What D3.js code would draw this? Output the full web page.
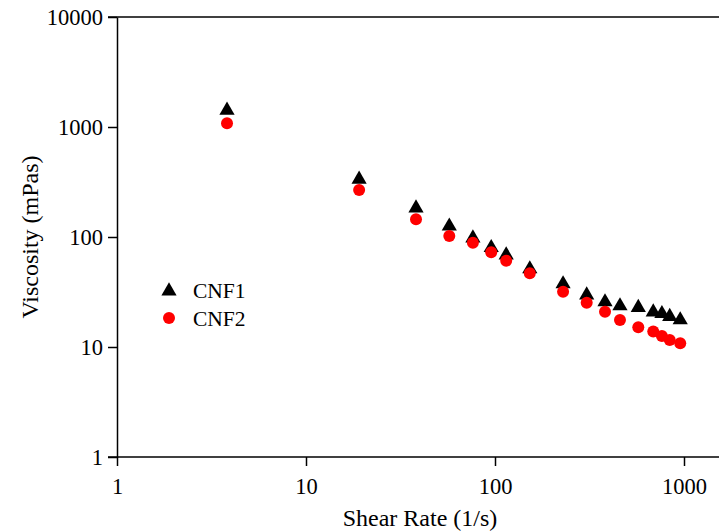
<!DOCTYPE html>
<html><head><meta charset="utf-8">
<script src="https://cdn.jsdelivr.net/npm/d3@7"></script>
<style>body{margin:0;background:#fff}svg{display:block}</style>
</head><body>
<svg id="c" width="719" height="531"></svg>
<script>
const shearRate = [3.82, 19.1, 38.2, 57.3, 76.4, 95.5, 114.6, 152.8, 229.2, 305.6, 382, 458.4, 573, 687.6, 764, 840.4, 955];
const cnf1 = [1450, 342, 187, 128, 100, 81.6, 70, 52.3, 38.2, 30.3, 26.2, 24.1, 23.3, 21.2, 20.5, 19.3, 18.0];
const cnf2 = [1081, 267, 145, 102, 88.8, 72.6, 60.9, 46.8, 31.8, 25.3, 20.9, 17.6, 15.1, 13.8, 12.6, 11.6, 10.8];
const xTicks = [1, 10, 100, 1000];
const yTicks = [1, 10, 100, 1000, 10000];
const seriesNames = ["CNF1", "CNF2"];

(function () {
const svg = d3.select("#c");
const font = "'Liberation Serif','Times New Roman',serif";
const mL = 117, mR = 719, mT = 17, mB = 457;
const x = d3.scaleLog().domain([1, Math.pow(10, 602/189)]).range([mL, mR]);
const y = d3.scaleLog().domain([1, 10000]).range([mB, mT]);

svg.append("line").attr("x1", mL - 9).attr("x2", mR)
  .attr("y1", y(10000)).attr("y2", y(10000)).attr("stroke", "#000").attr("stroke-width", 1.5);

const xa = svg.append("g").attr("transform", `translate(0,${mB})`)
  .call(d3.axisBottom(x).tickValues(xTicks).tickFormat(d3.format("d")).tickSize(9).tickPadding(12).tickSizeOuter(0));
const ya = svg.append("g").attr("transform", `translate(${mL},0)`)
  .call(d3.axisLeft(y).tickValues(yTicks).tickFormat(d3.format("d")).tickSize(9).tickPadding(5).tickSizeOuter(0));
[xa, ya].forEach(g => {
  g.select(".domain").attr("stroke", "#000").attr("stroke-width", 1.5);
  g.selectAll(".tick line").attr("stroke", "#000").attr("stroke-width", 1.5);
  g.selectAll("text").attr("font-family", font).attr("font-size", 22.5).attr("fill", "#000");
});
xa.select(".domain").attr("d", `M${mL - 9},0H${mR}`);

svg.append("text").attr("x", 420).attr("y", 526).attr("text-anchor", "middle")
  .attr("font-family", font).attr("font-size", 24).text("Shear Rate (1/s)");
svg.append("text").attr("transform", "translate(38,237) rotate(-90)").attr("text-anchor", "middle")
  .attr("font-family", font).attr("font-size", 24).text("Viscosity (mPas)");

const tri = d3.symbol().type(d3.symbolTriangle).size(100);
svg.append("g").selectAll("path").data(shearRate).join("path")
  .attr("d", tri).attr("fill", "#000")
  .attr("transform", (d, i) => `translate(${x(d)},${y(cnf1[i]) + 1})`);
svg.append("g").selectAll("circle").data(shearRate).join("circle")
  .attr("cx", d => x(d)).attr("cy", (d, i) => y(cnf2[i])).attr("r", 6).attr("fill", "#ff0000");

const lg = svg.append("g");
lg.append("path").attr("d", tri).attr("fill", "#000").attr("transform", "translate(169,291)");
lg.append("circle").attr("cx", 169).attr("cy", 318).attr("r", 6).attr("fill", "#ff0000");
lg.selectAll("text").data(seriesNames).join("text")
  .attr("x", 193).attr("y", (d, i) => 298 + i * 28)
  .attr("font-family", font).attr("font-size", 21.5).text(d => d);
})();
</script>
</body></html>
